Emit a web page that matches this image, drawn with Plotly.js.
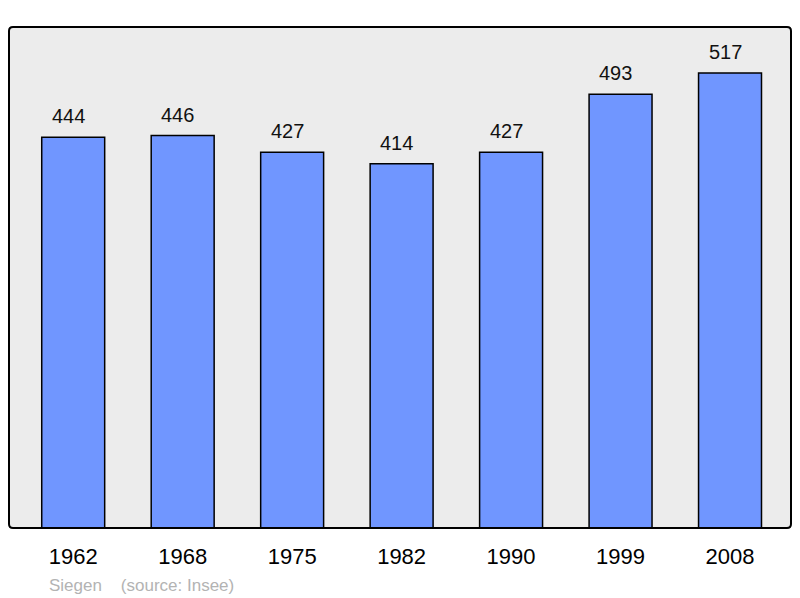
<!DOCTYPE html>
<html>
<head>
<meta charset="utf-8">
<script src="https://cdn.plot.ly/plotly-3.0.1.min.js"></script>
<style>html,body{margin:0;padding:0;background:#fff;}#chart{width:800px;height:598px;}</style>
</head>
<body>
<div id="chart"></div>
<script>
const years = ["1962", "1968", "1975", "1982", "1990", "1999", "2008"];
const population = [444, 446, 427, 414, 427, 493, 517];
const sourceNote = "Siegen \u00a0\u00a0\u00a0(source: Insee)";

const W = 800, H = 598;
const M = {l: 9, r: 9, t: 27, b: 70};
const pw = W - M.l - M.r, ph = H - M.t - M.b;
const rad = 4;
const rx = rad / pw, ry = rad / ph;
const framePath = `M ${rx},1 L ${1-rx},1 Q 1,1 1,${1-ry} L 1,${ry} Q 1,0 ${1-rx},0 L ${rx},0 Q 0,0 0,${ry} L 0,${1-ry} Q 0,1 ${rx},1 Z`;

const trace = {
  type: 'bar',
  x: years,
  y: population,
  width: 0.575,
  marker: {color: '#7096ff', line: {color: '#000', width: 1.5}},
  hoverinfo: 'none'
};

const annotations = years.map((yr, i) => ({
  x: i, y: population[i], xref: 'x', yref: 'y',
  text: String(population[i]), showarrow: false,
  yanchor: 'bottom', yshift: 8, xshift: -5,
  font: {family: 'Liberation Sans, Arial, sans-serif', size: 20, color: '#111'}
}));
annotations.push({
  xref: 'paper', yref: 'paper', x: (47 - M.l) / pw, y: -57 / ph,
  xanchor: 'left', yanchor: 'middle', showarrow: false,
  text: sourceNote,
  font: {family: 'Liberation Sans, Arial, sans-serif', size: 17, color: '#b3b3b3'}
});

const layout = {
  width: W, height: H,
  margin: M,
  paper_bgcolor: '#fff',
  plot_bgcolor: '#ececec',
  showlegend: false,
  xaxis: {
    type: 'category',
    range: [-0.5865, 6.557],
    showgrid: false, zeroline: false, showline: false,
    ticks: '', ticklabelstandoff: 13,
    tickfont: {family: 'Liberation Sans, Arial, sans-serif', size: 22, color: '#000'},
    fixedrange: true
  },
  yaxis: {
    range: [0, 569.3],
    showgrid: false, zeroline: false, showline: false,
    showticklabels: false, ticks: '',
    fixedrange: true
  },
  shapes: [{
    type: 'path', xref: 'paper', yref: 'paper', path: framePath,
    line: {color: '#000', width: 2}, layer: 'above'
  }],
  annotations: annotations
};

Plotly.newPlot('chart', [trace], layout, {displayModeBar: false, staticPlot: true});
</script>
</body>
</html>
